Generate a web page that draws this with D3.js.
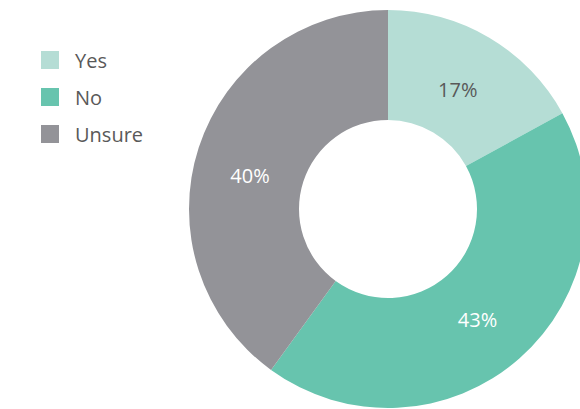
<!DOCTYPE html>
<html>
<head>
<meta charset="utf-8">
<script src="https://cdn.jsdelivr.net/npm/d3@7"></script>
<style>
  html, body { margin: 0; padding: 0; background: #fff; }
  svg { display: block; font-family: "Open Sans", "Noto Sans", sans-serif; }
</style>
</head>
<body>
<svg id="chart" width="580" height="409"></svg>
<script>
// Survey answers
const categories = ["Yes", "No", "Unsure"];
const values = [17, 43, 40];
const labels = ["17%", "43%", "40%"];
const colors = ["#b5ddd5", "#67c4ae", "#939398"];
const labelColors = ["#595959", "#ffffff", "#ffffff"];

const svg = d3.select("#chart");
const cx = 388, cy = 209, outerR = 199, innerR = 89;

// small placement tweaks for the value labels (layout only)
const labelNudge = [[-3, 4], [-5, 4], [-2, 11]];

const pie = d3.pie().sort(null).value(d => d.value);
const data = categories.map((c, i) => ({ name: c, value: values[i], label: labels[i], color: colors[i], lc: labelColors[i], nudge: labelNudge[i] }));
const arcs = pie(data);

const arc = d3.arc().innerRadius(innerR).outerRadius(outerR);
const labelArc = d3.arc().innerRadius(143).outerRadius(143);

const g = svg.append("g").attr("transform", `translate(${cx},${cy})`);

g.selectAll("path.slice")
  .data(arcs)
  .join("path")
  .attr("class", "slice")
  .attr("d", arc)
  .attr("fill", d => d.data.color);

g.selectAll("text.val")
  .data(arcs)
  .join("text")
  .attr("class", "val")
  .attr("transform", d => {
    const [x, y] = labelArc.centroid(d);
    return `translate(${x + d.data.nudge[0]},${y + d.data.nudge[1]})`;
  })
  .attr("text-anchor", "middle")
  .attr("dy", "0.35em")
  .attr("font-size", 20)
  .attr("fill", d => d.data.lc)
  .text(d => d.data.label);

// Legend
const legend = svg.append("g").attr("transform", "translate(41,51)");
const item = legend.selectAll("g.item")
  .data(data)
  .join("g")
  .attr("class", "item")
  .attr("transform", (d, i) => `translate(0,${i * 37})`);

item.append("rect")
  .attr("width", 18)
  .attr("height", 18)
  .attr("fill", d => d.color);

item.append("text")
  .attr("x", 34)
  .attr("y", 10)
  .attr("dy", "0.35em")
  .attr("font-size", 20)
  .attr("fill", "#595959")
  .text(d => d.name);
</script>
</body>
</html>
